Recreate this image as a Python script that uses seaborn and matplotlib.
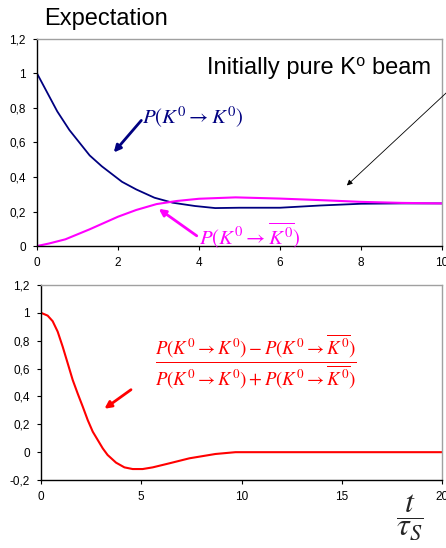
import seaborn as sns
import matplotlib.pyplot as plt
import pandas as pd

# top panel: probabilities vs t / tau_S
t_top = [0, 0.5, 0.8, 1.3, 1.6, 2.1, 2.45, 2.9, 3.35, 3.9, 4.4, 5, 6, 7, 8, 9, 10]
p_same = [1.0, 0.78, 0.672, 0.525, 0.462, 0.372, 0.328, 0.28, 0.251, 0.232, 0.22,
          0.222, 0.222, 0.235, 0.245, 0.247, 0.247]
t_flip = [0, 0.3, 0.7, 1.3, 2.0, 2.45, 2.95, 3.45, 4.0, 4.9, 6, 7, 8, 9, 10]
p_flip = [0.0, 0.015, 0.039, 0.097, 0.17, 0.209, 0.243, 0.261, 0.274, 0.282,
          0.275, 0.266, 0.256, 0.25, 0.247]

# bottom panel: asymmetry
t_bot = [0, 0.33, 0.58, 0.83, 1.08, 1.33, 1.58, 1.83, 2.08, 2.33, 2.58, 2.83, 3.08,
         3.32, 3.74, 4.16, 4.57, 5.07, 5.57, 6.4, 7.4, 8.7, 9.7, 15, 20]
asym = [1.0, 0.98, 0.94, 0.865, 0.757, 0.638, 0.518, 0.42, 0.327, 0.23, 0.147,
        0.087, 0.027, -0.02, -0.075, -0.109, -0.121, -0.121, -0.109, -0.08,
        -0.044, -0.013, 0.0, 0.0, 0.0]

top_yticks = [0, 0.2, 0.4, 0.6, 0.8, 1.0, 1.2]
top_ylabels = ["0", "0,2", "0,4", "0,6", "0,8", "1", "1,2"]
top_xticks = [0, 2, 4, 6, 8, 10]
bot_yticks = [-0.2, 0, 0.2, 0.4, 0.6, 0.8, 1.0, 1.2]
bot_ylabels = ["-0,2", "0", "0,2", "0,4", "0,6", "0,8", "1", "1,2"]
bot_xticks = [0, 5, 10, 15, 20]

sns.set_style("ticks")
plt.rcParams["font.family"] = ["Liberation Sans", "DejaVu Sans"]
plt.rcParams["mathtext.fontset"] = "stix"

fig = plt.figure(figsize=(4.46, 5.48), dpi=100)
ax1 = fig.add_axes([0.083, 0.551, 0.908, 0.378])
ax2 = fig.add_axes([0.092, 0.124, 0.899, 0.356])

df_same = pd.DataFrame({"t": t_top, "p": p_same})
df_flip = pd.DataFrame({"t": t_flip, "p": p_flip})
sns.lineplot(data=df_same, x="t", y="p", ax=ax1, color="#000080", lw=1.3)
sns.lineplot(data=df_flip, x="t", y="p", ax=ax1, color="#FF00FF", lw=1.5)

df_bot = pd.DataFrame({"t": t_bot, "a": asym})
sns.lineplot(data=df_bot, x="t", y="a", ax=ax2, color="#FF0000", lw=1.5)

for ax, xt, yt, yl, xlim, ylim in [
    (ax1, top_xticks, top_yticks, top_ylabels, (0, 10), (0, 1.2)),
    (ax2, bot_xticks, bot_yticks, bot_ylabels, (0, 20), (-0.2, 1.2)),
]:
    ax.set_xlim(*xlim)
    ax.set_ylim(*ylim)
    ax.set_xticks(xt)
    ax.set_xticklabels([str(v) for v in xt])
    ax.set_yticks(yt)
    ax.set_yticklabels(yl)
    ax.set_xlabel("")
    ax.set_ylabel("")
    ax.tick_params(labelsize=8.5, length=3, width=0.8, pad=5,
                   colors="black", labelcolor="black")
    for s in ["left", "bottom"]:
        ax.spines[s].set_color("black")
        ax.spines[s].set_linewidth(1.0)
    for s in ["top", "right"]:
        ax.spines[s].set_visible(True)
        ax.spines[s].set_color("#a0a0a0")
        ax.spines[s].set_linewidth(1.0)

fig.text(0.10, 0.965, "Expectation", fontsize=17, va="center", ha="left",
         color="black")
ax1.text(0.972, 0.86, "Initially pure K\u2070 beam", transform=ax1.transAxes,
         fontsize=17, ha="right", va="center", color="black",
         family=["Liberation Sans", "DejaVu Sans"])
ax1.annotate("", xy=(7.6, 0.34), xytext=(10.3, 0.93),
             arrowprops=dict(arrowstyle="-|>", color="black", lw=0.6,
                             mutation_scale=8), annotation_clip=False)

ax1.text(2.6, 0.745, r"$P(K^0 \rightarrow K^0)$", color="#000080", fontsize=15,
         ha="left", va="center")
ax1.annotate("", xy=(1.85, 0.53), xytext=(2.62, 0.74),
             arrowprops=dict(arrowstyle="-|>", color="#000080", lw=2,
                             mutation_scale=10))

ax1.text(4.0, 0.065, r"$P(K^0 \rightarrow \overline{K^0})$", color="#FF00FF",
         fontsize=15, ha="left", va="center")
ax1.annotate("", xy=(2.95, 0.225), xytext=(4.0, 0.05),
             arrowprops=dict(arrowstyle="-|>", color="#FF00FF", lw=2,
                             mutation_scale=10))

ax2.text(10.7, 0.65,
         r"$\dfrac{P(K^0 \rightarrow K^0) - P(K^0 \rightarrow \overline{K^0})}"
         r"{P(K^0 \rightarrow K^0) + P(K^0 \rightarrow \overline{K^0})}$",
         color="#FF0000", fontsize=13.5, ha="center", va="center")
ax2.annotate("", xy=(3.05, 0.3), xytext=(4.6, 0.46),
             arrowprops=dict(arrowstyle="-|>", color="#FF0000", lw=2,
                             mutation_scale=10))

fig.text(0.92, 0.057, r"$\dfrac{t}{\tau_S}$", fontsize=23, ha="center", va="center")

fig.savefig("out.png", dpi=100)
